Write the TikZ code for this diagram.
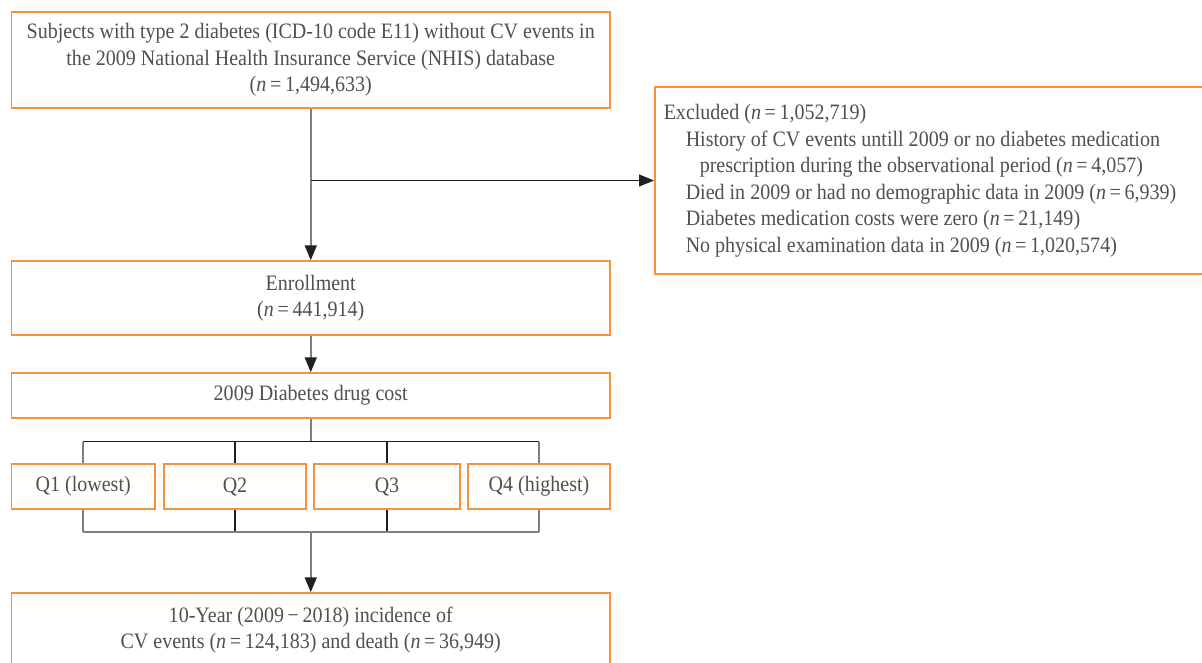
\documentclass[tikz,border=0pt]{standalone}
\usepackage{fontspec}
\setmainfont[FakeStretch=0.91]{Liberation Serif}
\usetikzlibrary{arrows.meta}
\definecolor{boxorange}{RGB}{245,146,60}
\definecolor{txtgray}{RGB}{80,80,80}
\definecolor{linegray}{RGB}{128,128,128}
\definecolor{headdark}{RGB}{35,31,32}
\tikzset{
  box/.style={draw=boxorange, line width=1.5pt, fill=white, text=txtgray, align=center, inner sep=0pt,
    font=\fontsize{22}{26.5}\selectfont},
  vline/.style={draw=linegray, line width=1.8pt},
  hline/.style={draw=headdark, line width=1.1pt},
  arr/.style={-{Triangle[length=15pt,width=12pt,color=headdark]}},
}
\begin{document}
\begin{tikzpicture}[x=1pt,y=-1pt]
\useasboundingbox (0,0) rectangle (1202,662);
\clip (0,0) rectangle (1202,662);
\fill[white] (0,0) rectangle (1202,662);

\node[box, minimum width=598.5pt, minimum height=96pt] (top) at (310.75,60)
  {Subjects with type 2 diabetes (ICD-10 code E11) without CV events in\\
   the 2009 National Health Insurance Service (NHIS) database\\
   (\textit{n}\,=\,1,494,633)};

\node[box, minimum height=187pt, text width=620pt, align=flush left, anchor=west, inner xsep=9pt] (excl) at (654,180.5)
  {Excluded (\textit{n}\,=\,1,052,719)\\
   \hspace*{22pt}History of CV events untill 2009 or no diabetes medication\\
   \hspace*{36pt}prescription during the observational period (\textit{n}\,=\,4,057)\\
   \hspace*{22pt}Died in 2009 or had no demographic data in 2009 (\textit{n}\,=\,6,939)\\
   \hspace*{22pt}Diabetes medication costs were zero (\textit{n}\,=\,21,149)\\
   \hspace*{22pt}No physical examination data in 2009 (\textit{n}\,=\,1,020,574)};

\node[box, minimum width=598.5pt, minimum height=74pt] (enr) at (310.75,298)
  {Enrollment\\(\textit{n}\,=\,441,914)};

\node[box, minimum width=598.5pt, minimum height=45pt] (cost) at (310.75,395.5)
  {2009 Diabetes drug cost};

\node[box, minimum width=143.5pt, minimum height=45pt] (q1) at (83.25,486.5) {Q1 (lowest)};
\node[box, minimum width=142pt, minimum height=45pt] (q2) at (235,486.5) {Q2};
\node[box, minimum width=146pt, minimum height=45pt] (q3) at (387,486.5) {Q3};
\node[box, minimum width=142pt, minimum height=45pt] (q4) at (539,486.5) {Q4 (highest)};

\node[box, minimum width=598.5pt, minimum height=74pt] (fin) at (310.75,630)
  {10-Year (2009\,\textminus\,2018) incidence of\\
   CV events (\textit{n}\,=\,124,183) and death (\textit{n}\,=\,36,949)};

% top -> enrollment, branch to excluded
\coordinate (br) at (top.south |- excl.west);
\draw[vline, arr] (top.south) -- (enr.north);
\draw[hline, arr] (br) -- (excl.west);

% enrollment -> cost
\draw[vline, arr] (enr.south) -- (cost.north);

% cost -> quartiles
\coordinate (s1) at (310.75,441.7);
\draw[vline] (cost.south) -- (s1);
\draw[hline] (q1.north |- s1) -- (q4.north |- s1);
\draw[vline] (q1.north |- s1) -- (q1.north);
\draw[hline] (q2.north |- s1) -- (q2.north);
\draw[hline] (q3.north |- s1) -- (q3.north);
\draw[vline] (q4.north |- s1) -- (q4.north);

% quartiles -> final
\coordinate (s2) at (310.75,532);
\draw[vline] (q1.south) -- (q1.south |- s2);
\draw[hline] (q2.south) -- (q2.south |- s2);
\draw[hline] (q3.south) -- (q3.south |- s2);
\draw[vline] (q4.south) -- (q4.south |- s2);
\draw[vline] (q1.south |- s2) -- (q4.south |- s2);
\draw[vline, arr] (s2) -- (fin.north);
\end{tikzpicture}
\end{document}
